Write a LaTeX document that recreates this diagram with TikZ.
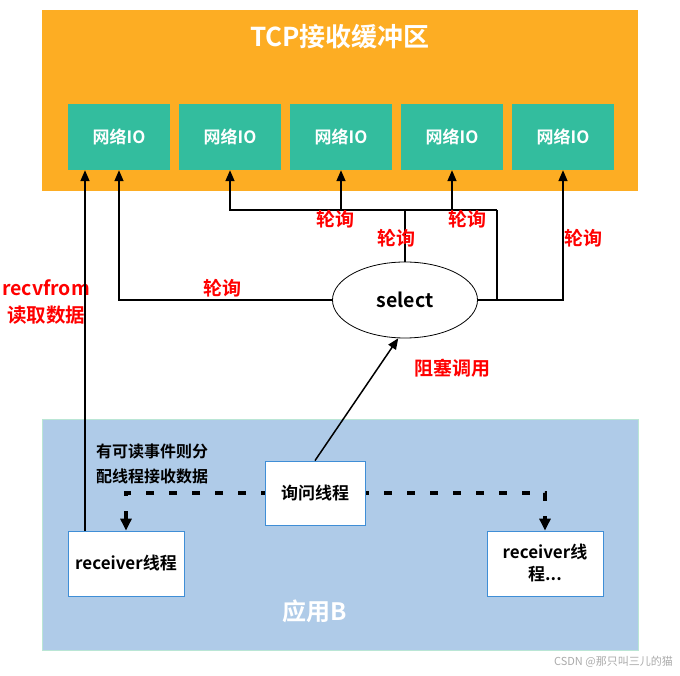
\documentclass[tikz,border=0pt]{standalone}
\usepackage{fontspec}
\setmainfont{Noto Sans CJK SC}
\newfontfamily\cjkb{Noto Sans CJK SC Bold}
\usetikzlibrary{shapes.geometric,arrows.meta}
\definecolor{orangebg}{RGB}{253,173,35}
\definecolor{greenio}{RGB}{51,189,158}
\definecolor{bluebg}{RGB}{175,203,232}
\definecolor{blueedge}{RGB}{63,142,214}
\definecolor{redtxt}{RGB}{255,0,0}
\definecolor{wmgray}{RGB}{170,170,170}
\tikzset{
  iobox/.style={fill=greenio, minimum width=102pt, minimum height=66pt, inner sep=0pt,
    text=white, font=\cjkb\fontsize{17pt}{20pt}\selectfont},
  wbox/.style={draw=blueedge, line width=0.8pt, fill=white, inner sep=0pt, align=center,
    font=\cjkb\fontsize{17pt}{22pt}\selectfont},
  redlbl/.style={text=redtxt, font=\cjkb\fontsize{19pt}{27pt}\selectfont, align=center, inner sep=0pt},
  conn/.style={line width=1.5pt, draw=black},
  arrowconn/.style={conn, -{Triangle[length=11pt,width=9pt]}},
  dashconn/.style={line width=3.2pt, dash pattern=on 8pt off 15pt, -{Triangle[length=12pt,width=11pt]}},
}
\begin{document}
\begin{tikzpicture}[x=1pt,y=-1pt]
\useasboundingbox (0,0) rectangle (680,676);
% backgrounds
\fill[orangebg] (42,10) rectangle (638,191);
\fill[bluebg] (42,419) rectangle (638,650);
\draw[color=bluebg!80!green!60, line width=0.8pt] (42,419) rectangle (638,650);
\node[text=white, font=\cjkb\fontsize{26pt}{30pt}\selectfont] (title) at (340,37) {TCP接收缓冲区};
\node[text=white, font=\cjkb\fontsize{24pt}{28pt}\selectfont] (appb) at (315,611) {应用B};
% IO boxes
\node[iobox] (io1) at (119,137) {网络IO};
\node[iobox] (io2) at (230,137) {网络IO};
\node[iobox] (io3) at (341,137) {网络IO};
\node[iobox] (io4) at (452,137) {网络IO};
\node[iobox] (io5) at (563,137) {网络IO};
% select
\node[ellipse, draw, line width=0.8pt, fill=white, minimum width=145pt, minimum height=76pt, inner sep=0pt,
  font=\cjkb\fontsize{19.5pt}{22pt}\selectfont] (sel) at (405,300) {select};
\coordinate (hub) at (405,210);
\coordinate (jr) at (497,210);
\coordinate (jb) at (497,300);
% polling connectors
\draw[arrowconn] (sel.west) -| (io1.south);
\draw[conn] (sel.north) -- (hub);
\draw[arrowconn] (jr) -| (io2.south);
\draw[arrowconn] (io3.south |- hub) -- (io3.south);
\draw[arrowconn] (io4.south |- hub) -- (io4.south);
\draw[conn] (jr) -- (jb);
\draw[arrowconn] (sel.east) -| (io5.south);
% labels
\node[redlbl] (l1) at (222,288) {轮询};
\node[redlbl] (l2) at (335,219) {轮询};
\node[redlbl] (l3) at (396,238) {轮询};
\node[redlbl] (l4) at (467,219) {轮询};
\node[redlbl] (l5) at (583,238) {轮询};
\node[redlbl] (lblock) at (452,368) {阻塞调用};
\node[redlbl, font=\cjkb\fontsize{19.5pt}{27pt}\selectfont] (lrecv) at (46,302) {recvfrom\\读取数据};
% app boxes
\node[wbox, minimum width=116pt, minimum height=65pt] (r1) at (126,563.5) {receiver线程};
\node[wbox, minimum width=116pt, minimum height=65pt] (r2) at (545,563.5) {receiver线\\程...};
\coordinate (qc) at (315,493);
% dashed dispatch (drawn first, box drawn on top)
\draw[dashconn] (qc) -| (r1.north);
\draw[dashconn] (qc) -| (r2.north);
\node[wbox, minimum width=100pt, minimum height=64pt] (q) at (qc) {询问线程};
% recvfrom line
\draw[arrowconn] ([xshift=-41pt]r1.north) -- ([xshift=-41pt]r1.north |- io1.south);
% query to select
\draw[arrowconn] (q.north) -- (sel.260);
\node[align=left, anchor=north west, inner sep=0pt, font=\cjkb\fontsize{16pt}{25pt}\selectfont] (note) at (96,444) {有可读事件则分\\配线程接收数据};
\node[text=wmgray, font=\fontsize{11pt}{13pt}\selectfont, anchor=east, inner sep=0pt] (wm) at (673,662) {CSDN @那只叫三儿的猫};
\end{tikzpicture}
\end{document}
